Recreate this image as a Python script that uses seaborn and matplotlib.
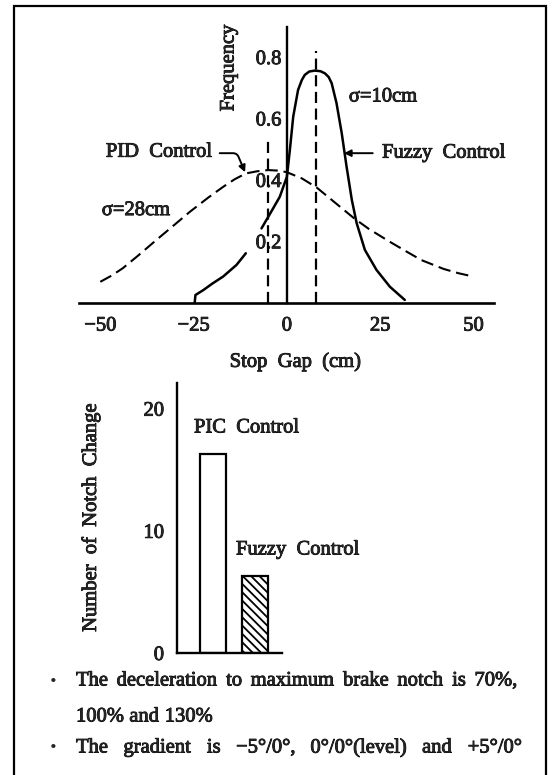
import matplotlib
matplotlib.use("Agg")
import matplotlib.pyplot as plt
from matplotlib.patches import Rectangle
from matplotlib.textpath import TextPath
from matplotlib.font_manager import FontProperties
import matplotlib.patheffects as pe
import seaborn as sns
import pandas as pd

# ---------------- data ----------------
pid_x = [-50, -47, -44, -40, -35, -30, -26, -21, -17, -14, -11, -8, -5, -2, 0,
         4, 8, 12, 18, 22, 27.5, 32, 36, 42, 46, 50]
pid_y = [0.068, 0.088, 0.112, 0.152, 0.204, 0.255, 0.296, 0.343, 0.378, 0.402,
         0.421, 0.428, 0.432, 0.430, 0.425, 0.405, 0.375, 0.335, 0.275, 0.240,
         0.199, 0.167, 0.139, 0.110, 0.096, 0.085]

fuzzy_x = [-24.7, -24.5, -22.4, -20, -17.1, -13.5, -11,
           -6.8, -4.5, -1.9, 0, 0.8, 1.7, 3.0, 4.0, 4.8, 6.0, 7.5, 9.0, 10.2,
           11.2, 12, 13.3, 14.7, 16, 17.4, 18.7, 20.9, 24, 27.6, 31.6]
fuzzy_y = [0.0, 0.025, 0.041, 0.062, 0.085, 0.123, 0.161,
           0.242, 0.29, 0.345, 0.41, 0.497, 0.606, 0.693, 0.725, 0.742, 0.753,
           0.756, 0.754, 0.747, 0.735, 0.715, 0.65, 0.552, 0.443, 0.335, 0.259,
           0.172, 0.107, 0.052, 0.009]
fuzzy_seg = [0] * 7 + [1] * 24

pid_mean = -5
pid_mean_top = 0.53
fuzzy_mean = 7.7
fuzzy_mean_top = 0.82

x_ticks = [-50, -25, 0, 25, 50]
x_ticklabels = ["\u221250", "\u221225", "0", "25", "50"]
y_ticks = [0.2, 0.4, 0.6, 0.8]
y_ticklabels = ["0.2", "0.4", "0.6", "0.8"]

bar_labels = ["PIC Control", "Fuzzy Control"]
bar_values = [16.3, 6.3]
bar_ticks = [0, 10, 20]

note1_words = ["The", "deceleration", "to", "maximum", "brake", "notch", "is",
               "70%,"]
note2_words = ["100%", "and", "130%"]
note3_words = ["The", "gradient", "is", "\u22125\u00b0/0\u00b0,",
               "0\u00b0/0\u00b0(level)", "and", "+5\u00b0/0\u00b0"]

# ---------------- style ----------------
sns.set_style("white")
FAMILY = ["Liberation Serif", "DejaVu Serif"]
plt.rcParams["font.family"] = FAMILY
plt.rcParams["hatch.linewidth"] = 1.3
plt.rcParams["axes.edgecolor"] = "black"
FS = 14.8
THICK = [pe.withStroke(linewidth=0.6, foreground="black")]

W, H = 553, 775
fig = plt.figure(figsize=(W / 100, H / 100), dpi=100)


def fx(px):
    return px / W


def fy(py):
    return 1 - py / H


# outer frame
fig.patches.append(Rectangle((fx(14), -0.05), fx(546) - fx(14), fy(6) + 0.05,
                             transform=fig.transFigure, fill=False,
                             lw=1.6, ec="black"))

# ---------------- top chart ----------------
ax = fig.add_axes([fx(79), fy(302.7), fx(494) - fx(79), (302.7 - 27) / H])
ax.set_facecolor("none")
ax.set_xlim(-55.7, 55.5)
ax.set_ylim(0, 0.898)

pid_df = pd.DataFrame({"x": pid_x, "y": pid_y})
fz_df = pd.DataFrame({"x": fuzzy_x, "y": fuzzy_y, "seg": fuzzy_seg})
sns.lineplot(data=pid_df, x="x", y="y", ax=ax, color="black", lw=1.5,
             sort=False, estimator=None)
ax.lines[-1].set_dashes([6, 2.8])
sns.lineplot(data=fz_df, x="x", y="y", units="seg", estimator=None, ax=ax,
             color="black", lw=1.8, sort=False)

ax.plot([pid_mean, pid_mean], [0, pid_mean_top], color="black", lw=1.6,
        dashes=[5, 2.5])
ax.plot([fuzzy_mean, fuzzy_mean], [0, fuzzy_mean_top], color="black", lw=1.6,
        dashes=[5, 2.5])

for s in ["top", "right"]:
    ax.spines[s].set_visible(False)
ax.spines["left"].set_position(("data", 0))
ax.spines["left"].set_linewidth(1.7)
ax.spines["bottom"].set_linewidth(1.9)
ax.set_xticks(x_ticks)
ax.set_xticklabels(x_ticklabels, fontsize=FS)
ax.set_yticks(y_ticks)
ax.set_yticklabels(y_ticklabels, fontsize=FS)
ax.tick_params(axis="x", direction="in", length=6, width=1.5, pad=10)
ax.tick_params(axis="y", direction="in", length=6, width=1.5, pad=4)
for t in ax.get_xticklabels() + ax.get_yticklabels():
    t.set_path_effects(THICK)
ax.set_xlabel("")
ax.set_ylabel("")
ax.grid(False)

ax.text(-15.5, 0.764, "Frequency", rotation=90, ha="center", va="center",
        fontsize=FS, path_effects=THICK)
ax.text(-48.5, 0.49, "PID  Control", ha="left", va="center", fontsize=FS,
        path_effects=THICK)
ax.text(25.5, 0.487, "Fuzzy  Control", ha="left", va="center", fontsize=FS,
        clip_on=False, path_effects=THICK)
ax.text(16.6, 0.67, "\u03c3=10cm", ha="left", va="center", fontsize=FS,
        path_effects=THICK)
ax.text(-49.6, 0.30, "\u03c3=28cm", ha="left", va="center", fontsize=FS,
        path_effects=THICK)

ax.annotate("", xy=(-11.2, 0.425), xytext=(-18, 0.487),
            arrowprops=dict(arrowstyle="-|>", color="black", lw=1.4,
                            mutation_scale=10, shrinkA=0, shrinkB=0,
                            connectionstyle="angle,angleA=0,angleB=113,rad=4"))
ax.annotate("", xy=(15.3, 0.487), xytext=(23, 0.487),
            arrowprops=dict(arrowstyle="-|>", color="black", lw=1.4,
                            mutation_scale=10, shrinkA=0, shrinkB=0))

fig.text(fx(295), fy(362), "Stop  Gap  (cm)", ha="center", va="center",
         fontsize=FS, path_effects=THICK)

# ---------------- bottom chart ----------------
bx = fig.add_axes([fx(176.5), fy(653), fx(282) - fx(176.5), (653 - 383) / H])
bx.set_facecolor("none")
bar_df = pd.DataFrame({"name": bar_labels, "value": bar_values})
sns.barplot(data=bar_df, x="name", y="value", ax=bx, width=0.62,
            color="white", edgecolor="black", linewidth=1.6)
bx.patches[1].set_hatch("\\\\\\\\")
bx.set_xlim(-0.875, 1.655)
bx.set_ylim(0, 22.1)
for s in ["top", "right"]:
    bx.spines[s].set_visible(False)
bx.spines["left"].set_linewidth(1.7)
bx.spines["bottom"].set_linewidth(1.7)
bx.set_xticks([])
bx.set_yticks(bar_ticks)
bx.set_yticklabels([str(t) for t in bar_ticks], fontsize=FS)
bx.tick_params(axis="y", direction="in", length=7, width=1.5, pad=9)
for t in bx.get_yticklabels():
    t.set_path_effects(THICK)
bx.set_xlabel("")
bx.set_ylabel("")
bx.grid(False)

fig.text(fx(194), fy(428), "PIC  Control", ha="left", va="center", fontsize=FS,
         path_effects=THICK)
fig.text(fx(236), fy(550), "Fuzzy  Control", ha="left", va="center",
         fontsize=FS, path_effects=THICK)
fig.text(fx(91), fy(518), "Number  of  Notch  Change", rotation=90,
         ha="center", va="center", fontsize=FS, path_effects=THICK)

# ---------------- notes (justified lines) ----------------
fprop = FontProperties(family=FAMILY, size=FS)
size_px = FS * 100 / 72


def word_width(w):
    tp = TextPath((0, 0), w, size=size_px, prop=fprop)
    return tp.get_extents().x1


def justified(words, x0, x1, ypx):
    widths = [word_width(w) for w in words]
    gap = (x1 - x0 - sum(widths)) / max(len(words) - 1, 1)
    x = x0
    for w, wd in zip(words, widths):
        fig.text(fx(x), fy(ypx), w, ha="left", va="center", fontsize=FS,
                 path_effects=THICK)
        x += wd + gap


for ypx in (681, 748):
    fig.text(fx(53), fy(ypx), "\u00b7", ha="center", va="center",
             fontsize=FS + 4, fontweight="bold")
justified(note1_words, 76, 516, 681)
justified(note2_words, 76, 212, 717)
justified(note3_words, 76, 521, 748)

fig.savefig("out.png", dpi=100)
